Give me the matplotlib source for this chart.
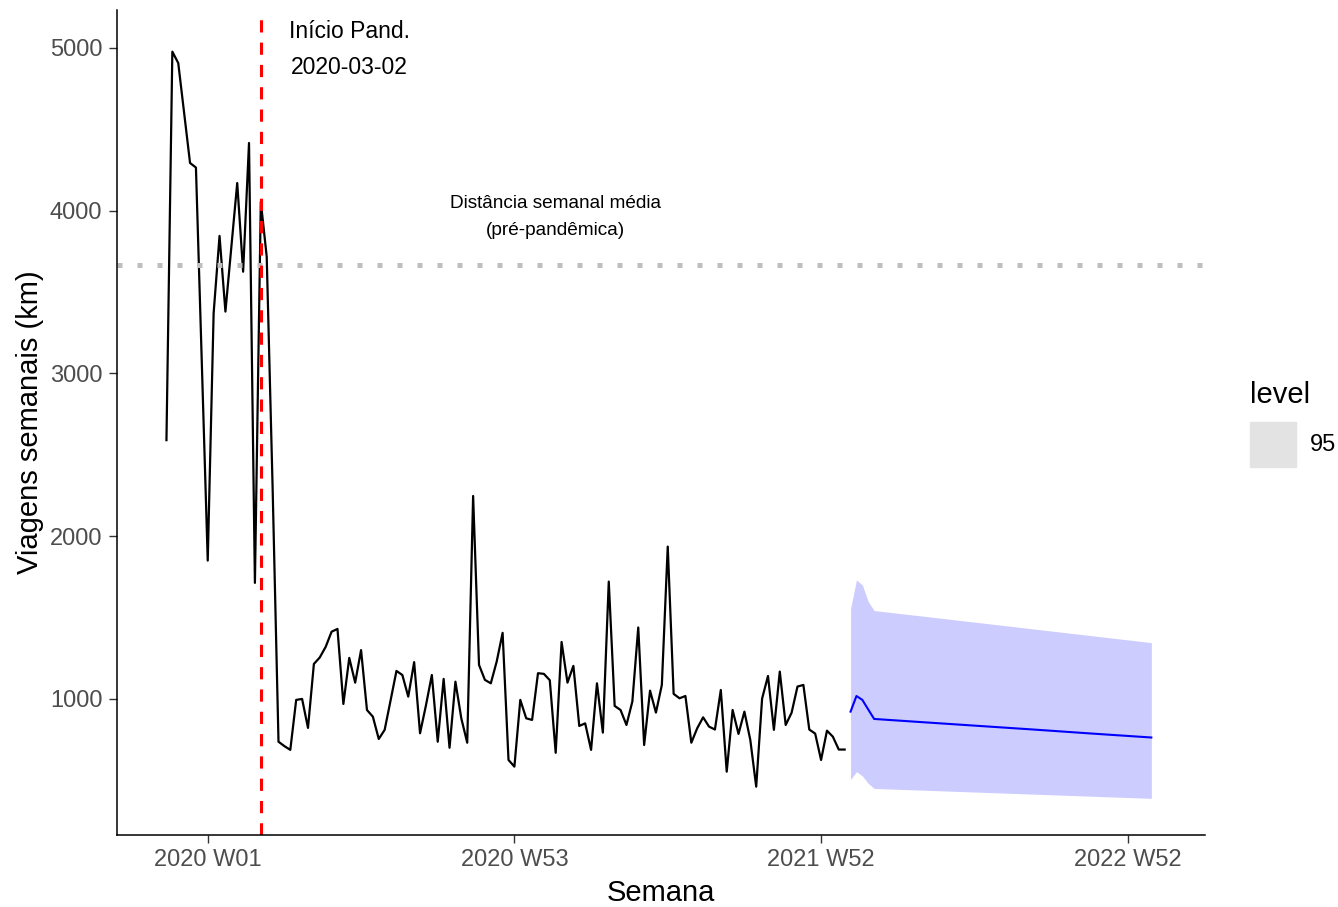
import numpy as np
import matplotlib
matplotlib.use("Agg")
import matplotlib.pyplot as plt
from matplotlib.patches import Rectangle

plt.rcParams['font.family'] = ['Liberation Sans', 'DejaVu Sans']

# semanas contadas a partir de 2019-12-30 (2020 W01 = 0)
viagens = [2590, 4977, 4907, 4600, 4293, 4265, 3060, 1850, 3370, 3845,
           3380, 3775, 4170, 3625, 4416, 1713, 4055, 3718, 2300, 737,
           710, 687, 994, 1000, 822, 1215, 1255, 1320, 1413, 1430,
           969, 1252, 1100, 1300, 932, 891, 754, 810, 990, 1172,
           1147, 1014, 1226, 789, 960, 1147, 737, 1123, 700, 1106,
           880, 731, 2247, 1209, 1117, 1096, 1230, 1406, 625, 584,
           994, 881, 871, 1158, 1154, 1115, 669, 1350, 1100, 1203,
           834, 850, 687, 1096, 793, 1721, 957, 932, 840, 984,
           1439, 717, 1051, 916, 1086, 1936, 1031, 1004, 1018, 731,
           820, 887, 830, 812, 1055, 553, 932, 785, 922, 748,
           461, 1002, 1141, 810, 1168, 840, 915, 1076, 1086, 812,
           787, 625, 805, 768, 689, 689]
semana_ini = -7

prev_semana = [109, 110, 111, 112, 113, 120, 130, 140, 150, 160]
prev_media = [922, 1018, 994, 935, 877, 860, 836, 812, 787, 763]
prev_lo95 = [505, 553, 527, 481, 450, 441, 428, 415, 402, 389]
prev_hi95 = [1555, 1731, 1700, 1598, 1543, 1514, 1472, 1430, 1388, 1346]

tick_semanas = [0, 52, 104, 156]
tick_nomes = ['2020 W01', '2020 W53', '2021 W52', '2022 W52']
yticks = [1000, 2000, 3000, 4000, 5000]

media_pre = 3667
inicio_pand = 9

semanas = np.arange(semana_ini, semana_ini + len(viagens))

fig = plt.figure(figsize=(13.38, 9.07), dpi=100)
W, H = 1338, 907
ax = fig.add_axes([117.5 / W, (H - 834.5) / H, (1205 - 117.5) / W, (834.5 - 10) / H])

ax.fill_between(prev_semana, prev_lo95, prev_hi95, color='#CCCCFF', lw=0)
ax.plot(prev_semana, prev_media, color='blue', lw=1.5)
ax.plot(semanas, viagens, color='black', lw=1.6)

ax.axhline(media_pre, color='#BEBEBE', lw=3.6, dashes=(1, 3))
ax.axvline(inicio_pand, color='red', lw=2.2, dashes=(4, 3.3))

ax.text(24, 4991, 'Início Pand.\n2020-03-02', ha='center', va='center',
        fontsize=16.5, linespacing=1.7)
ax.text(59, 3962, 'Distância semanal média\n(pré-pandêmica)', ha='center',
        va='center', fontsize=13.7, linespacing=1.78)

ax.set_xlim(-15.3, 169.1)
ax.set_ylim(167, 5233)
ax.set_xticks(tick_semanas)
ax.set_xticklabels(tick_nomes)
ax.set_yticks(yticks)

for s in ['top', 'right']:
    ax.spines[s].set_visible(False)
for s in ['left', 'bottom']:
    ax.spines[s].set_linewidth(1.1)
    ax.spines[s].set_color('black')
ax.tick_params(axis='both', length=5.8, width=1.0, color='#333333',
               labelcolor='#4D4D4D', labelsize=17, pad=5)

ax.set_xlabel('Semana', fontsize=21)
ax.xaxis.set_label_coords(0.5, (834.5 - 893) / 824.5)
ax.xaxis.label.set_va('center')
ax.set_ylabel('Viagens semanais (km)', fontsize=21)
ax.yaxis.set_label_coords((30 - 117.5) / 1087.5, 0.5)
ax.yaxis.label.set_va('center')

# legenda
fig.text(1250 / W, 1 - 395 / H, 'level', fontsize=21, ha='left', va='center')
fig.patches.append(Rectangle((1250 / W, 1 - 467 / H), 46 / W, 45 / H,
                             transform=fig.transFigure, color='#E3E3E3',
                             figure=fig))
fig.text(1310 / W, 1 - 445 / H, '95', fontsize=17, ha='left', va='center')

fig.savefig('out.png', dpi=100)
